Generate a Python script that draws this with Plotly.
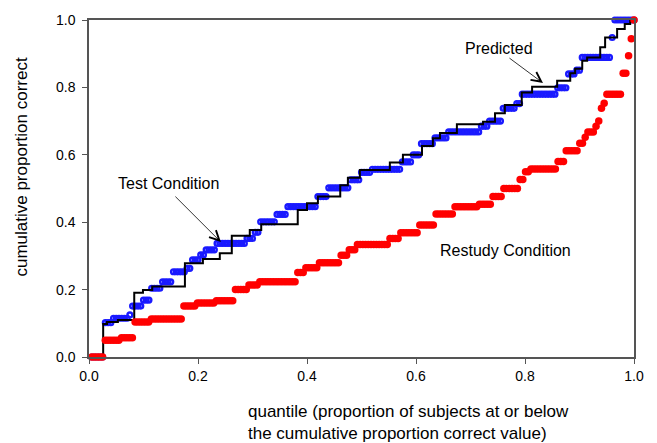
import numpy as np
import plotly.graph_objects as go

# ---------------- data ----------------
# Restudy condition: proportion-correct levels and number of subjects at each level
restudy_levels = [0.000, 0.050, 0.057, 0.104, 0.113, 0.151, 0.160, 0.167, 0.200, 0.214,
                  0.223, 0.251, 0.265, 0.280, 0.302, 0.318, 0.334, 0.352, 0.369, 0.392,
                  0.424, 0.446, 0.453, 0.476, 0.500, 0.527, 0.550, 0.558, 0.580, 0.612,
                  0.634, 0.652, 0.668, 0.685, 0.700, 0.738, 0.753, 0.780, 0.842, 0.894,
                  0.944, 1.000]
restudy_counts = [5, 6, 5, 6, 12, 5, 7, 7, 5, 4,
                  14, 3, 5, 8, 3, 3, 12, 4, 7, 6,
                  7, 9, 5, 4, 6, 2, 2, 10, 3, 5,
                  2, 1, 3, 1, 1, 1, 1, 6, 2, 1,
                  1, 1]

# Test condition: proportion-correct levels and number of subjects at each level
test_levels = [0.000, 0.102, 0.115, 0.125, 0.151, 0.169, 0.204, 0.223, 0.253, 0.263,
               0.288, 0.303, 0.318, 0.337, 0.352, 0.370, 0.401, 0.423, 0.446, 0.476,
               0.502, 0.526, 0.548, 0.557, 0.579, 0.600, 0.633, 0.650, 0.668, 0.685,
               0.700, 0.738, 0.752, 0.780, 0.799, 0.840, 0.851, 0.889, 0.948, 1.000]
test_counts = [5, 3, 6, 1, 4, 3, 4, 4, 5, 2,
               3, 2, 4, 11, 3, 2, 6, 4, 11, 4,
               8, 4, 4, 11, 4, 3, 5, 5, 12, 3,
               5, 5, 2, 13, 4, 3, 2, 11, 1, 8]

# Predicted: step function (quantile where each step starts, value after step)
pred_quantile = [0.000, 0.026, 0.033, 0.053, 0.083, 0.099, 0.116, 0.176, 0.209, 0.240,
                 0.262, 0.295, 0.316, 0.383, 0.400, 0.420, 0.461, 0.475, 0.497, 0.552,
                 0.576, 0.611, 0.631, 0.644, 0.675, 0.723, 0.745, 0.763, 0.794, 0.813,
                 0.859, 0.883, 0.892, 0.905, 0.914, 0.938, 0.947, 0.969, 0.983, 0.993,
                 1.000]
pred_value = [0.000, 0.098, 0.104, 0.110, 0.191, 0.199, 0.209, 0.278, 0.291, 0.308,
              0.360, 0.377, 0.394, 0.436, 0.456, 0.476, 0.510, 0.532, 0.555, 0.577,
              0.600, 0.626, 0.649, 0.665, 0.691, 0.698, 0.723, 0.748, 0.785, 0.802,
              0.820, 0.842, 0.855, 0.879, 0.889, 0.919, 0.948, 0.973, 0.988, 0.998,
              0.998]

x_ticks = [0.0, 0.2, 0.4, 0.6, 0.8, 1.0]
y_ticks = [0.0, 0.2, 0.4, 0.6, 0.8, 1.0]


def ecdf(levels, counts):
    n = sum(counts)
    ys = np.repeat(levels, counts)
    xs = np.arange(1, n + 1) / n
    return xs, ys


FONT = "Liberation Sans, Arial, sans-serif"

tx, ty = ecdf(test_levels, test_counts)
rx, ry = ecdf(restudy_levels, restudy_counts)

fig = go.Figure()
fig.add_trace(go.Scatter(
    x=tx, y=ty, mode="markers", cliponaxis=False,
    marker=dict(symbol="circle-open", size=4.8, color="#1a1aff",
                line=dict(width=2.4, color="#1a1aff")),
    showlegend=False, hoverinfo="skip"))
fig.add_trace(go.Scatter(
    x=pred_quantile, y=pred_value, mode="lines", line_shape="hv",
    line=dict(color="black", width=2), cliponaxis=False,
    showlegend=False, hoverinfo="skip"))
fig.add_trace(go.Scatter(
    x=rx, y=ry, mode="markers", cliponaxis=False,
    marker=dict(symbol="circle", size=7.5, color="#ff0000", line=dict(width=0)),
    showlegend=False, hoverinfo="skip"))

axis_common = dict(
    showgrid=False, zeroline=False, showline=True, linecolor="#555555", linewidth=1.5,
    mirror=True, ticks="outside", ticklen=5, tickwidth=1, tickcolor="#555555",
    tickformat=".1f", tickfont=dict(family=FONT, size=14, color="black"),
)

fig.update_xaxes(range=[0, 1], tickvals=x_ticks, **axis_common)
fig.update_yaxes(range=[0, 1], tickvals=y_ticks, ticklabelstandoff=4, **axis_common)

ann_font = dict(family=FONT, size=16, color="black")
annotations = [
    # labels
    dict(text="Predicted", x=0.752, y=0.915, xref="x", yref="y", showarrow=False,
         font=ann_font),
    dict(text="Test Condition", x=0.145, y=0.515, xref="x", yref="y", showarrow=False,
         font=ann_font),
    dict(text="Restudy Condition", x=0.765, y=0.317, xref="x", yref="y", showarrow=False,
         font=ann_font),
    # arrows
    dict(text="", x=0.833, y=0.813, xref="x", yref="y", ax=-35, ay=-26,
         showarrow=True, arrowhead=5, arrowsize=2.4, arrowwidth=0.8, arrowcolor="black",
         standoff=0, startstandoff=0),
    dict(text="", x=0.242, y=0.341, xref="x", yref="y", ax=-47, ay=-47,
         showarrow=True, arrowhead=5, arrowsize=2.4, arrowwidth=0.8, arrowcolor="black",
         standoff=0, startstandoff=0),
    # axis titles
    dict(text="cumulative proportion correct", x=-0.123, y=0.565, xref="paper",
         yref="paper", textangle=-90, showarrow=False, xanchor="center", yanchor="middle",
         font=dict(family=FONT, size=17, color="black")),
    dict(text="quantile (proportion of subjects at or below<br>"
              "the cumulative proportion correct value)",
         x=0.288, y=-0.193, xref="paper", yref="paper", showarrow=False,
         xanchor="left", yanchor="middle", align="left",
         font=dict(family=FONT, size=17, color="black")),
]

fig.update_layout(
    width=657, height=443,
    margin=dict(l=89, r=23, t=20, b=86),
    paper_bgcolor="white", plot_bgcolor="white",
    annotations=annotations,
    showlegend=False,
)

fig.write_html("out.html")
